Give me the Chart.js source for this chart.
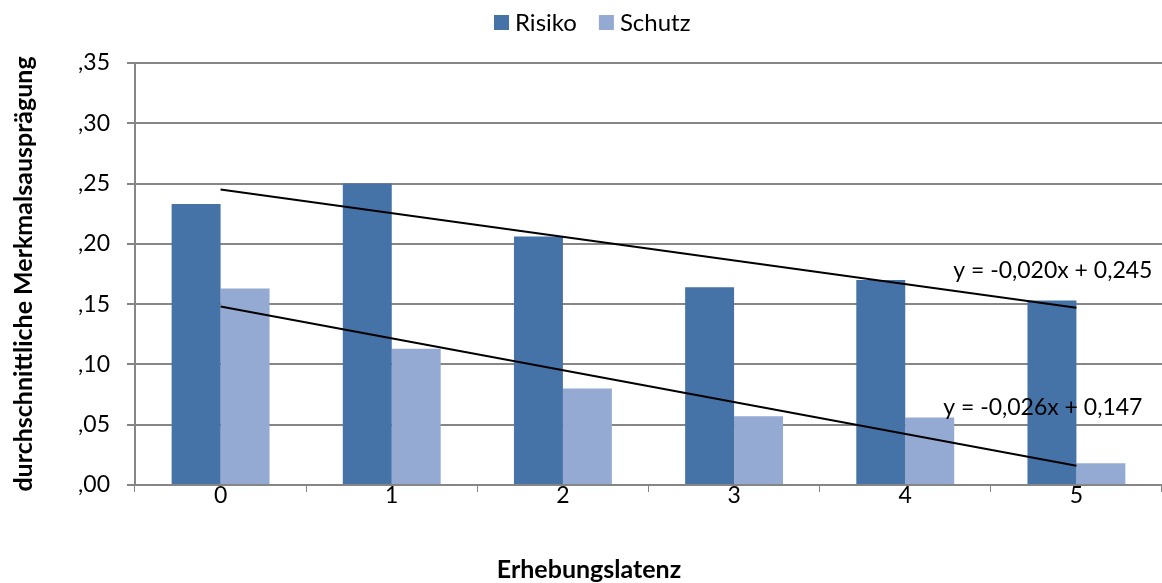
<!DOCTYPE html>
<html>
<head>
<meta charset="utf-8">
<script src="https://cdn.jsdelivr.net/npm/chart.js@4"></script>
<style>
  html, body { margin: 0; padding: 0; background: #fff; }
  #wrap { width: 1162px; height: 583px; }
</style>
</head>
<body>
<div id="wrap"><canvas id="chart"></canvas></div>
<script>
const labels = ['0', '1', '2', '3', '4', '5'];
const risiko = [0.233, 0.250, 0.206, 0.164, 0.170, 0.153];
const schutz = [0.163, 0.113, 0.080, 0.057, 0.056, 0.018];
// trend line endpoints (category 0 and 5)
const trendRisiko = [0.245, null, null, null, null, 0.147];
const trendSchutz = [0.148, null, null, null, null, 0.016];
const equations = ['y = -0,020x + 0,245', 'y = -0,026x + 0,147'];
const xTitle = 'Erhebungslatenz';

const font = 'Lato, "Open Sans", sans-serif';

// equation labels, x axis title and the legend, drawn by hand
const extras = {
  id: 'extras',
  afterDatasetsDraw(chart) {
    const ctx = chart.ctx;
    const x = chart.scales.x;
    const y = chart.scales.y;
    ctx.save();
    ctx.fillStyle = '#000';
    ctx.textBaseline = 'middle';

    ctx.font = '23px ' + font;
    ctx.textAlign = 'right';
    ctx.fillText(equations[0], x.getPixelForValue(5) + 76, y.getPixelForValue(0.178));
    ctx.fillText(equations[1], x.getPixelForValue(5) + 66, y.getPixelForValue(0.064));

    ctx.font = 'bold 25px ' + font;
    ctx.textAlign = 'center';
    ctx.fillText(xTitle, 589, 570);

    ctx.font = '24px ' + font;
    ctx.textAlign = 'left';
    let lx = 494;
    chart.data.datasets.slice(0, 2).forEach(ds => {
      ctx.fillStyle = ds.backgroundColor;
      ctx.fillRect(lx, 15, 15, 15);
      ctx.fillStyle = '#000';
      ctx.fillText(ds.label, lx + 21, 23);
      lx += 21 + ctx.measureText(ds.label).width + 22;
    });
    ctx.restore();
  }
};

new Chart(document.getElementById('chart'), {
  type: 'bar',
  data: {
    labels: labels,
    datasets: [
      { label: 'Risiko', data: risiko, backgroundColor: '#4572A7', order: 2 },
      { label: 'Schutz', data: schutz, backgroundColor: '#94AAD2', order: 2 },
      { type: 'line', label: 'trend1', data: trendRisiko, borderColor: '#000', borderWidth: 2,
        pointRadius: 0, spanGaps: true, order: 1 },
      { type: 'line', label: 'trend2', data: trendSchutz, borderColor: '#000', borderWidth: 2,
        pointRadius: 0, spanGaps: true, order: 1 }
    ]
  },
  options: {
    responsive: true,
    maintainAspectRatio: false,
    animation: false,
    datasets: { bar: { categoryPercentage: 0.572, barPercentage: 1 } },
    layout: { padding: { top: 63, right: 0, left: 0, bottom: 0 } },
    plugins: {
      legend: { display: false },
      tooltip: { enabled: false }
    },
    scales: {
      x: {
        grid: { drawOnChartArea: false, drawTicks: true, tickLength: 7, color: '#868686', offset: true },
        border: { color: '#868686', width: 2 },
        ticks: { font: { family: font, size: 23 }, color: '#000', padding: -10 },
        afterFit(scale) { scale.height = 98; }
      },
      y: {
        min: 0,
        max: 0.35,
        ticks: {
          stepSize: 0.05,
          font: { family: font, size: 23 },
          color: '#000',
          padding: 17,
          callback: v => v.toFixed(2).replace('0.', ',')
        },
        grid: { color: '#868686', lineWidth: 2, tickLength: 8 },
        border: { color: '#868686', width: 2 },
        title: { display: true, text: 'durchschnittliche Merkmalsausprägung',
          font: { family: font, size: 25, weight: 'bold' }, color: '#000', padding: { top: 9, bottom: 0 } },
        afterFit(scale) { scale.width = 135; }
      }
    }
  },
  plugins: [extras]
});
</script>
</body>
</html>
